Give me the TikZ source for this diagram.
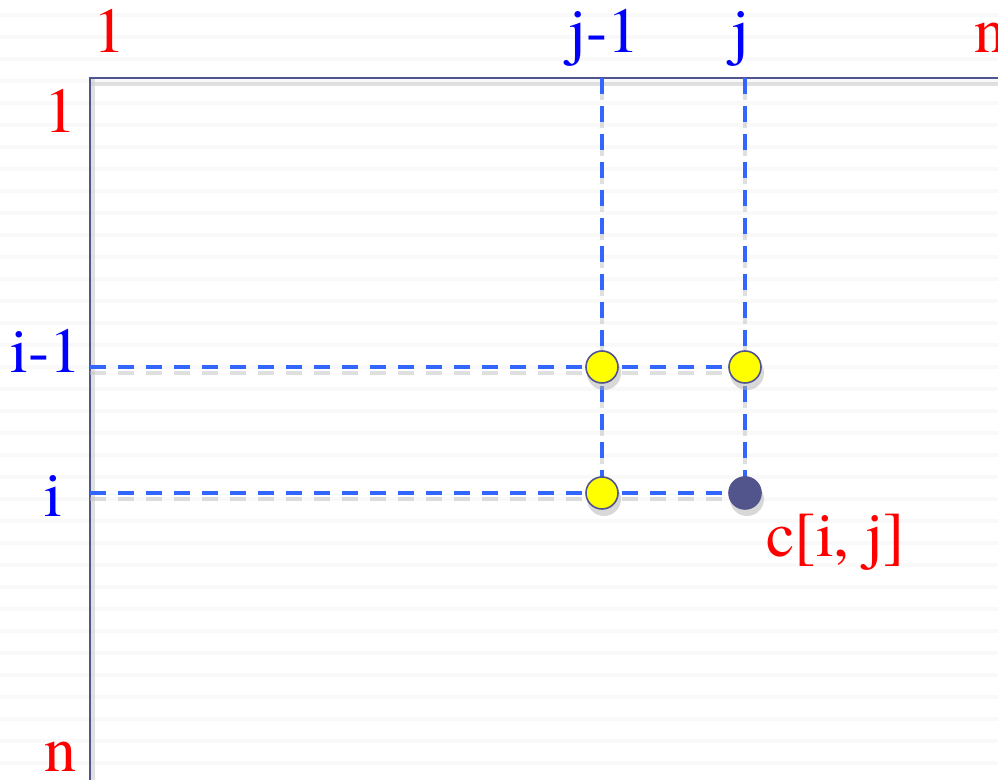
\documentclass[tikz,border=0pt]{standalone}
\usepackage{fontspec}
\newfontfamily\labelfont{texgyretermes-regular.otf}
\usepackage{tikz}
\usetikzlibrary{positioning}

\definecolor{frameblue}{HTML}{50548F}
\definecolor{dashblue}{HTML}{3366FF}
\definecolor{dotyellow}{HTML}{FFFF00}
\definecolor{dotdark}{HTML}{52548C}
\definecolor{stripegray}{HTML}{F9F9F9}

\begin{document}
\begin{tikzpicture}[
			x=0.5pt, y=-0.5pt,
			font=\labelfont\fontsize{32}{33}\selectfont,
			frame/.style={
				draw=frameblue,
				line width=1.2pt
			},
			grid/.style={
				dashblue,
				line width=2pt,
				dash pattern=on 8pt off 6pt
			},
			gridshadow/.style={
				black!25,
				line width=2.4pt,
				dash pattern=on 8pt off 6pt,
				opacity=0.5
			},
			dot/.style={
				circle,
				draw=frameblue,
				line width=0.8pt,
				fill=dotyellow,
				minimum size=16pt,
				inner sep=0pt
			},
			target/.style={
				dot,
				draw=dotdark,
				fill=dotdark
			},
			index/.style={
				text=red,
				anchor=base,
				inner sep=0pt
			},
			cell/.style={
				text=blue,
				anchor=base,
				inner sep=0pt
			}
			]
			
			\useasboundingbox (0,0) rectangle (998,780);
			
			% lined background
			\foreach \y in {15,37,...,785}
				\fill[stripegray] (0,\y-2) rectangle (998,\y+2);
			
			% table frame (corner at top left, open to the right and below)
			\coordinate (corner) at (90,78);
			\coordinate (frameright) at (1010,78);
			\coordinate (framebottom) at (90,790);
			\draw[black!20, line width=2pt, opacity=0.6] ([yshift=-3pt]corner) -- ([yshift=-3pt]frameright);
			\draw[black!20, line width=2pt, opacity=0.6] ([xshift=1.5pt]corner) -- ([xshift=1.5pt]framebottom);
			\draw[frame] (frameright) -- (corner) -- (framebottom);
			
			% row and column numbers
			\node[index] (col1) at (109,53) {1};
			\node[index, anchor=base west] (coln) at (974,53) {n};
			\node[index] (row1) at (61,133) {1};
			\node[index] (rown) at (61,772) {n};
			\node[cell] (colj1) at (604,53) {j-1};
			\node[cell] (colj) at (740,53) {j};
			\node[cell] (rowi1) at (46,373) {i-1};
			\node[cell] (rowi) at (53,517) {i};
			
			% where the dashed lines leave the frame
			\coordinate (topj1) at (602,78);
			\coordinate (topj) at (745,78);
			\coordinate (lefti1) at (90,367);
			\coordinate (lefti) at (90,493);
			
			% cells of the table
			\coordinate (upleft) at (602,367);
			\coordinate (up) at (745,367);
			\coordinate (left) at (602,493);
			\coordinate (here) at (745,493);
			
			% shadows of the dashed lines
			\foreach \a/\b in {topj1/left, topj/here, lefti1/up, lefti/here}
				\draw[gridshadow] ([yshift=-3pt]\a) -- ([yshift=-3pt]\b);
			
			% dashed lines
			\draw[grid] (topj1) -- (left);
			\draw[grid] (topj) -- (here);
			\draw[grid] (lefti1) -- (up);
			\draw[grid] (lefti) -- (here);
			
			% shadows of the dots
			\foreach \p in {upleft, up, left, here}
				\fill[black!30, opacity=0.5] ([xshift=1pt, yshift=-3pt]\p) circle (8.5pt);
			
			% dots
			\node[dot] (nupleft) at (upleft) {};
			\node[dot] (nup) at (up) {};
			\node[dot] (nleft) at (left) {};
			\node[target] (nhere) at (here) {};
			
			\node[index, anchor=base west] (cij) at (766,557) {c[i, j]};
			
		\end{tikzpicture}
\end{document}
